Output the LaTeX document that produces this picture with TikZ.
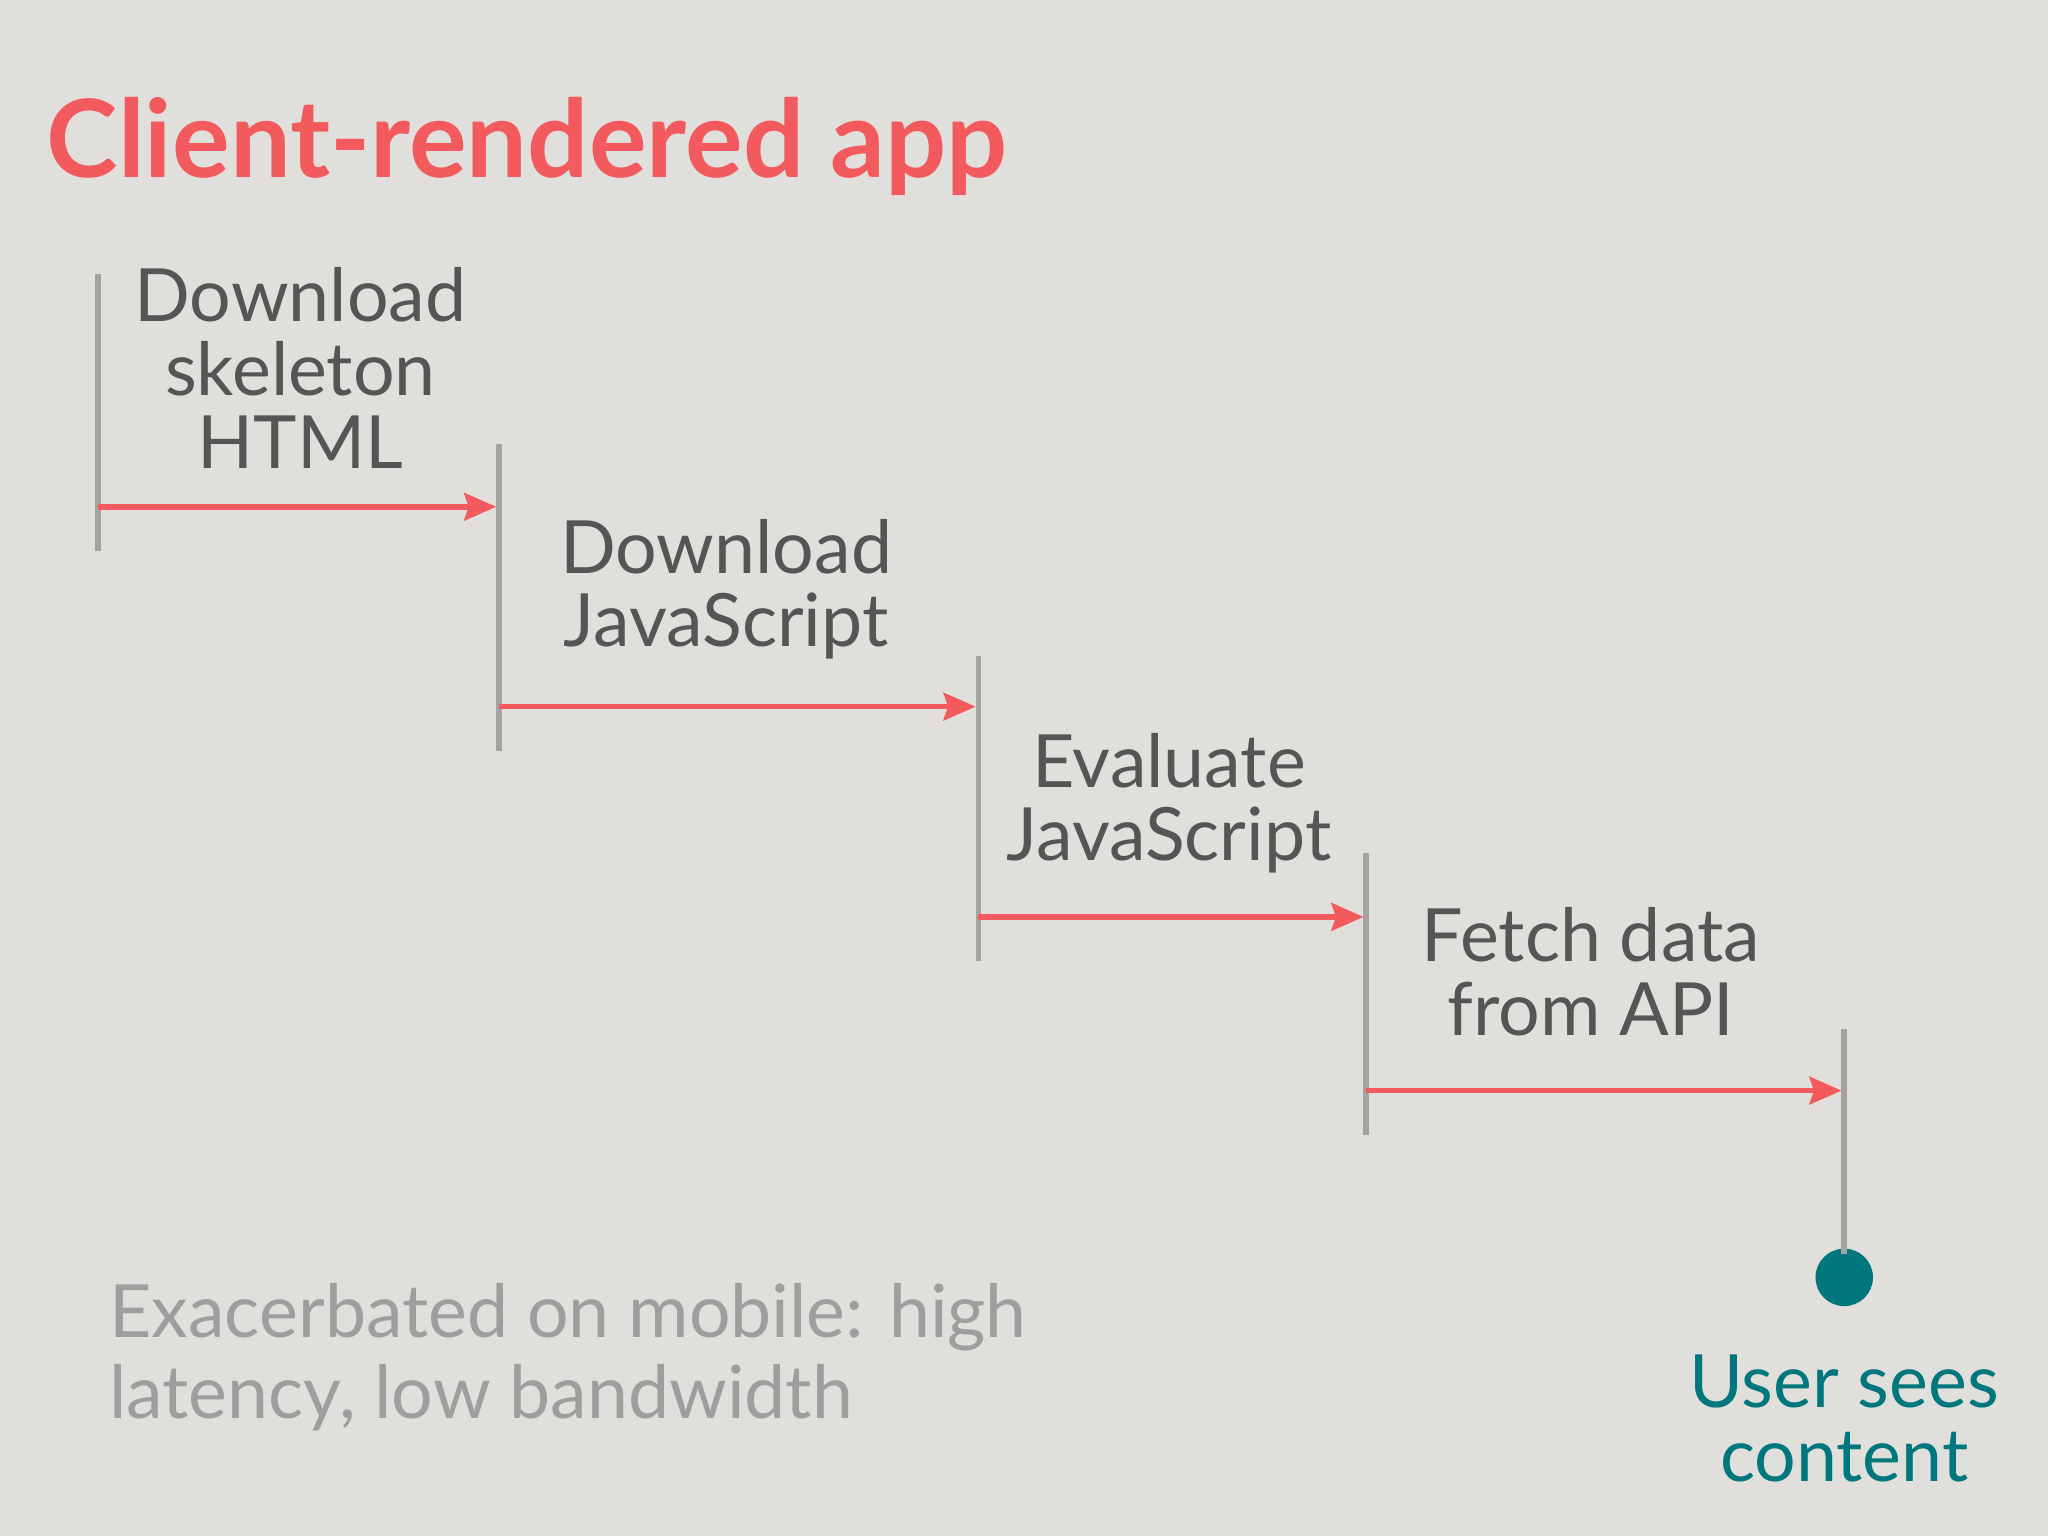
\documentclass[tikz,border=0pt]{standalone}
\usepackage{fontspec}
\setmainfont{Lato}
\usetikzlibrary{arrows.meta}
\definecolor{bg}{HTML}{E1DFDB}
\definecolor{redc}{HTML}{F25A5E}
\definecolor{tealc}{HTML}{00777D}
\definecolor{txt}{HTML}{555555}
\definecolor{lgray}{HTML}{A3A3A3}
\definecolor{ltxt}{HTML}{9E9E9E}
\tikzset{
 x=0.01cm,y=-0.01cm,
 vline/.style={lgray,line width=1.2pt},
 arr/.style={redc,line width=1.2pt,-{Stealth[length=7pt,width=6pt,inset=1pt]}},
 lbl/.style={txt,align=center,font=\fontsize{16}{16}\selectfont,inner sep=0pt},
}
\begin{document}
\begin{tikzpicture}
\fill[bg] (0,0) rectangle (1568,1176);
\useasboundingbox (0,0) rectangle (1568,1176);
\node[redc,anchor=west,font=\fontsize{23.5}{26}\bfseries\selectfont,inner sep=0pt] (title) at (35,112) {Client-rendered app};
% vertical lines
\coordinate (a1) at (75,210); \coordinate (a2) at (75,422);
\coordinate (b1) at (382,340); \coordinate (b2) at (382,575);
\coordinate (c1) at (749,502); \coordinate (c2) at (749,736);
\coordinate (d1) at (1046,653); \coordinate (d2) at (1046,869);
\coordinate (e1) at (1412,788); \coordinate (e2) at (1412,960);
\draw[vline] (a1)--(a2); \draw[vline] (b1)--(b2); \draw[vline] (c1)--(c2);
\draw[vline] (d1)--(d2); \draw[vline] (e1)--(e2);
% arrows
\coordinate (s1) at (75,388); \coordinate (t1) at (380,388);
\coordinate (s2) at (382,541); \coordinate (t2) at (747,541);
\coordinate (s3) at (749,702); \coordinate (t3) at (1044,702);
\coordinate (s4) at (1046,835); \coordinate (t4) at (1410,835);
\draw[arr] (s1)--(t1); \draw[arr] (s2)--(t2); \draw[arr] (s3)--(t3); \draw[arr] (s4)--(t4);
\node[circle,fill=tealc,inner sep=0pt,minimum size=0.44cm] (dot) at (1412,978) {};
\draw[vline] (e2)--(dot.north);
% labels
\node[lbl] (l1) at (230,282) {Download\\skeleton\\HTML};
\node[lbl] (l2) at (556,451) {Download\\JavaScript};
\node[lbl] (l3) at (895,615) {Evaluate\\JavaScript};
\node[lbl] (l4) at (1218,744) {Fetch data\\from API};
\node[lbl,tealc] (l5) at (1412,1086) {User sees\\content};
\node[lbl,ltxt,align=left,anchor=west,font=\fontsize{16}{17.6}\selectfont] (note) at (83,1039) {Exacerbated on mobile: high\\latency, low bandwidth};
\end{tikzpicture}
\end{document}
